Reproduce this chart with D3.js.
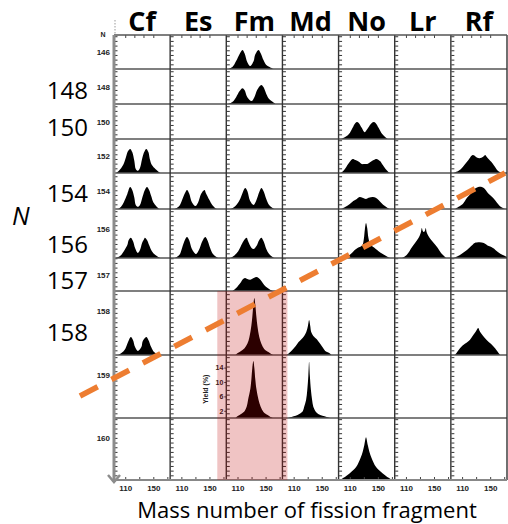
<!DOCTYPE html>
<html>
<head>
<meta charset="utf-8">
<script src="https://cdn.jsdelivr.net/npm/d3@7"></script>
<style>
  body { margin: 0; background: #fff; }
  svg { display: block; }
</style>
</head>
<body>
<svg width="508" height="524"></svg>
<script>
// ---- data ----
const elements = ['Cf', 'Es', 'Fm', 'Md', 'No', 'Lr', 'Rf'];
const neutrons = [146, 148, 150, 152, 154, 156, 157, 158, 159, 160];
const bigLabels = [148, 150, 154, 156, 157, 158];
const massTicks = [110, 150];
const yieldTicks = [2, 6, 10, 14];

// mass yield curves (mass number, yield %)
const series = [
  { el: 'Fm', n: 146, mass: [97,103,108,113,117,120,124,128,133,135,140,143,147,151,155,161],
    yld: [0,0.6,2.2,4.2,5.3,4.4,1.9,0.8,2.2,3.9,5.3,4.4,2.5,1.1,0.6,0] },
  { el: 'Fm', n: 148, mass: [97,103,108,113,117,120,124,130,134,138,144,147,151,155,160,164],
    yld: [0,0.6,1.9,3.6,4.4,3.9,1.9,0.8,1.9,3.9,5.3,4.7,2.8,1.4,0.6,0] },
  { el: 'No', n: 150, mass: [98,104,110,114,117,120,123,127,131,135,140,144,147,151,155,160,164],
    yld: [0,0.6,1.7,3.1,4.2,4.7,4.4,3.1,1.9,2.8,4.2,4.7,4.4,3.1,1.7,0.6,0] },
  { el: 'Cf', n: 152, mass: [97,101,107,111,114,117,120,123,125,128,131,134,137,140,143,145,148,153,157,160],
    yld: [0,0.6,2.2,4.4,6.1,6.7,5.8,3.3,1.1,0.6,1.4,3.9,5.8,6.7,5.8,3.9,2.2,1.1,0.4,0] },
  { el: 'No', n: 152, mass: [97,101,105,110,114,118,123,127,131,135,140,144,148,153,157,161,165,168],
    yld: [0,0.6,1.7,3.1,3.9,3.6,3.1,2.5,2.5,2.5,3.1,3.6,3.9,3.3,2.2,1.1,0.3,0] },
  { el: 'Rf', n: 152, mass: [98,105,111,117,121,125,128,131,135,140,143,145,150,153,157,161,167],
    yld: [0,0.6,1.7,3.1,4.2,5,4.8,4.3,4.1,4.5,5,4.5,3.4,2.8,1.7,0.6,0] },
  { el: 'Cf', n: 154, mass: [100,104,108,113,117,120,123,125,128,131,135,138,141,144,147,150,154,158],
    yld: [0,0.6,1.9,4.2,6.1,5.3,3.1,1.1,0.6,1.1,3.6,5.3,6.1,5.3,3.6,1.9,0.8,0] },
  { el: 'Es', n: 154, mass: [101,107,111,115,118,121,125,130,134,138,143,145,150,154,158,161],
    yld: [0,0.8,2.5,4.4,5.3,4.4,1.9,0.8,1.9,4.2,5.3,4.4,2.5,1.1,0.3,0] },
  { el: 'Fm', n: 154, mass: [101,107,113,117,121,124,128,133,137,141,144,147,151,155,160,163],
    yld: [0,0.8,2.5,4.4,5.8,5,2.2,1.1,2.5,4.7,5.8,5,2.8,1.1,0.3,0] },
  { el: 'No', n: 154, mass: [98,104,110,115,120,124,128,133,137,143,147,151,155,160,164,167],
    yld: [0,0.6,1.4,2.2,2.8,3.3,3.1,2.8,3.1,3.3,3.1,2.5,1.7,0.8,0.3,0] },
  { el: 'Rf', n: 154, mass: [100,105,111,117,123,128,133,137,141,147,154,160,165,171],
    yld: [0,0.6,1.4,3.1,4.4,5.6,6.1,6.2,5.8,4.4,3.1,1.7,0.6,0] },
  { el: 'Cf', n: 156, mass: [97,103,108,113,115,118,121,124,128,131,134,137,138,141,144,148,153,157,160],
    yld: [0,0.6,1.9,3.6,5,5.6,4.7,2.8,1.4,2.2,4.2,5.3,5.6,5,3.6,1.9,0.8,0.3,0] },
  { el: 'Es', n: 156, mass: [101,107,111,115,118,121,125,131,135,140,144,147,151,155,160,163],
    yld: [0,0.8,2.8,5,5.8,5,2.5,1.1,2.2,4.7,5.8,5,2.8,1.1,0.3,0] },
  { el: 'Fm', n: 156, mass: [100,105,111,117,123,125,130,133,137,141,144,147,151,155,160,163],
    yld: [0,0.6,1.9,4.2,5.6,4.7,2.8,2.5,3.3,5,5.6,4.7,2.5,1.1,0.3,0] },
  { el: 'No', n: 156, mass: [104,108,113,117,121,125,128,130,131.5,133.1,134.8,136.5,139,143,147,151,157,163,167],
    yld: [0,0.6,1.4,2.2,2.8,3.1,3.6,5.3,8,9.7,8.3,5.6,3.9,3.1,2.5,1.9,1.1,0.4,0] },
  { el: 'Lr', n: 156, mass: [105,111,119,126,129.4,131.4,132.6,134,135.4,136.9,138.3,139.4,142,146,154,160,164,167],
    yld: [0,0.8,3.1,5,6.1,7.2,8.3,7.5,7.2,7.5,8.3,7.2,6.1,5,3.1,1.4,0.6,0] },
  { el: 'Rf', n: 156, mass: [98,105,111,117,123,128,135,141,148,154,161,168,174],
    yld: [0,0.6,1.4,2.2,3.3,4.2,4.4,4.2,3.3,2.8,1.7,0.8,0.3] },
  { el: 'Fm', n: 157, mass: [103,108,114,118,121,124,128,133,137,140,144,148,153,157,161],
    yld: [0,0.8,2.2,3.3,3.6,3.3,3.1,3.6,3.9,3.6,2.8,1.7,0.8,0.3,0] },
  { el: 'Cf', n: 158, mass: [100,105,110,114,118,121,124,128,133,135,140,143,147,151,155,158],
    yld: [0,0.6,1.7,3.6,5,4.2,2.2,1.1,2.2,3.9,5,4.2,2.2,0.8,0.3,0] },
  { el: 'Fm', n: 158, mass: [107,111,115,120,124,127,129.7,131.1,132.6,134,135.4,136.9,138.3,141,144,148,154,158,161],
    yld: [0,0.6,1.1,1.9,3.1,5,8.1,10.6,13.9,15.8,13.9,10.6,8.1,5,3.1,1.7,0.8,0.3,0] },
  { el: 'Md', n: 158, mass: [100,104,108,113,117,121,125,128,130.4,132,133.6,135,138,143,147,151,155,160,164],
    yld: [0,0.6,1.4,2.5,3.6,4.4,5.3,6.4,8.1,9.7,8.1,6.4,5.3,4.4,3.3,2.2,1.1,0.6,0] },
  { el: 'Rf', n: 158, mass: [100,103,107,114,121,125,130,133,135,140,145,151,157,161,164],
    yld: [0,0.8,1.9,3.1,4.2,5.3,6.7,7.5,6.7,5.3,4.2,3.1,1.9,0.8,0] },
  { el: 'Fm', n: 159, mass: [107,111,115,120,123,125,128.3,129.7,131.1,132.6,134,135.4,136.9,140,143,147,153,157,161],
    yld: [0,0.6,1.1,1.9,3.1,5,8.1,10.6,13.9,15.8,13.9,10.6,8.1,5,3.1,1.7,0.8,0.3,0] },
  { el: 'Md', n: 159, mass: [101,107,113,118,123,125,127.7,129.4,130.9,132,133.1,134.6,136.3,138,141,145,151,157,163],
    yld: [0,0.3,0.6,1.1,1.9,3.1,5,7.8,11.7,15.6,11.7,7.8,5,3.1,1.9,1.1,0.6,0.3,0] },
  { el: 'No', n: 160, mass: [96,101,110,119,125.3,128.3,130.7,133.1,135.6,138,141,147.4,156.6,165.4,170.3],
    yld: [0,0.6,1.9,3.6,6.1,7.8,9.7,11.9,9.7,7.8,6.1,3.6,1.9,0.6,0] }
];

// ---- layout ----
const svg = d3.select('svg');
const left = 114, right = 507;
const colW = (right - left) / elements.length;
const rowEdges = [35, 69, 104, 139, 173, 209, 258, 291, 355, 418, 480];
const pxPerPct = 3.6;
const massDomain = [94, 174];

function xScale(i) {
  return d3.scaleLinear().domain(massDomain).range([left + i * colW, left + (i + 1) * colW]);
}
function yScale(r) {
  const top = rowEdges[r], bot = rowEdges[r + 1];
  return d3.scaleLinear().domain([0, (bot - top) / pxPerPct]).range([bot, top]);
}

// curves, each clipped to its own cell
series.forEach((s, k) => {
  const c = elements.indexOf(s.el), r = neutrons.indexOf(s.n);
  const x = xScale(c), y = yScale(r);
  svg.append('clipPath').attr('id', 'clip' + k)
    .append('rect')
    .attr('x', x.range()[0]).attr('width', colW)
    .attr('y', rowEdges[r]).attr('height', rowEdges[r + 1] - rowEdges[r]);
  const pts = s.mass.map((m, i) => [m, s.yld[i]]);
  const area = d3.area()
    .x(d => x(d[0]))
    .y0(y(0))
    .y1(d => y(d[1]))
    .curve(d3.curveCatmullRom.alpha(0.5));
  svg.append('path').attr('d', area(pts)).attr('fill', '#000')
    .attr('clip-path', `url(#clip${k})`);
});

// small tick marks on each cell
elements.forEach((el, c) => {
  const x = xScale(c);
  neutrons.forEach((n, r) => {
    const y = yScale(r);
    const g = svg.append('g')
      .attr('transform', `translate(${x.range()[0] + 0.5},0)`)
      .call(d3.axisRight(y).tickValues(d3.range(1.3, y.domain()[1], 1.3)).tickSize(3).tickFormat(''));
    g.select('.domain').remove();
    g.selectAll('line').attr('stroke', '#333');
  });
  const gb = svg.append('g')
    .attr('transform', `translate(0,${rowEdges[rowEdges.length - 1]})`)
    .call(d3.axisBottom(x).tickValues([110, 130, 150, 170]).tickSize(-3).tickPadding(5)
      .tickFormat(d => massTicks.includes(d) ? d : ''));
  gb.select('.domain').remove();
  gb.selectAll('line').attr('stroke', '#444');
  gb.selectAll('text').attr('font-family', 'Liberation Sans, Arial, sans-serif')
    .attr('font-weight', 'bold').attr('font-size', 8).attr('fill', '#222');
  const gt = svg.append('g')
    .attr('transform', `translate(0,${rowEdges[0]})`)
    .call(d3.axisTop(x).tickValues([110, 123, 136, 150]).tickSize(-3).tickFormat(''));
  gt.select('.domain').remove();
  gt.selectAll('line').attr('stroke', '#444');
});

// grid lines
rowEdges.slice(1, -1).forEach(yv => {
  svg.append('line').attr('x1', left).attr('x2', right).attr('y1', yv).attr('y2', yv)
    .attr('stroke', '#555').attr('stroke-width', 1.3);
});
d3.range(1, elements.length + 1).forEach(c => {
  svg.append('line').attr('x1', left + c * colW).attr('x2', left + c * colW)
    .attr('y1', rowEdges[0]).attr('y2', rowEdges[rowEdges.length - 1])
    .attr('stroke', '#333').attr('stroke-width', 1.4);
});
svg.append('line').attr('x1', left).attr('x2', right).attr('y1', rowEdges[0]).attr('y2', rowEdges[0])
  .attr('stroke', '#555').attr('stroke-width', 1.5);
svg.append('line').attr('x1', left).attr('x2', right)
  .attr('y1', rowEdges[rowEdges.length - 1]).attr('y2', rowEdges[rowEdges.length - 1])
  .attr('stroke', '#888').attr('stroke-width', 2);
// left axis with arrow
svg.append('line').attr('x1', left).attr('x2', left).attr('y1', rowEdges[0]).attr('y2', 482)
  .attr('stroke', '#8c8c8c').attr('stroke-width', 3);
svg.append('path').attr('d', `M${left - 6},475 L${left},482 L${left + 6},475`)
  .attr('fill', 'none').attr('stroke', '#8c8c8c').attr('stroke-width', 2.5);
svg.append('line').attr('x1', left + 1).attr('x2', left + 1).attr('y1', 20).attr('y2', 34)
  .attr('stroke', '#999').attr('stroke-dasharray', '1.5,1.5');

// yield axis labels (Fm, N = 159)
const fmX = xScale(elements.indexOf('Fm'));
const y159 = yScale(neutrons.indexOf(159));
const ga = svg.append('g')
  .attr('transform', `translate(${fmX.range()[0]},0)`)
  .call(d3.axisLeft(y159).tickValues(yieldTicks).tickSize(2).tickPadding(1));
ga.select('.domain').remove();
ga.selectAll('line').attr('stroke', '#333');
ga.selectAll('text').attr('font-family', 'Liberation Sans, Arial, sans-serif')
  .attr('font-weight', 'bold').attr('font-size', 7).attr('fill', '#222');
svg.append('text')
  .attr('transform', `translate(208,${y159(8)}) rotate(-90)`)
  .attr('text-anchor', 'middle')
  .attr('font-family', 'Liberation Sans, Arial, sans-serif')
  .attr('font-weight', 'bold').attr('font-size', 7).attr('fill', '#222')
  .text('Yield (%)');

// small N labels of the original figure
neutrons.forEach((n, r) => {
  const mid = (rowEdges[r] + rowEdges[r + 1]) / 2;
  svg.append('text')
    .attr('x', 110).attr('y', Math.min(mid, rowEdges[r] + 20) + 3)
    .attr('text-anchor', 'end')
    .attr('font-family', 'Liberation Sans, Arial, sans-serif')
    .attr('font-weight', 'bold').attr('font-size', 8).attr('fill', '#222')
    .text(n);
});
svg.append('text').attr('x', 103).attr('y', 37).attr('text-anchor', 'middle')
  .attr('font-family', 'Liberation Sans, Arial, sans-serif')
  .attr('font-weight', 'bold').attr('font-size', 7).attr('fill', '#222').text('N');

// pink highlight over Fm, N >= 158
const r158 = neutrons.indexOf(158);
svg.append('rect')
  .attr('x', fmX.range()[0] - 9).attr('width', colW + 14)
  .attr('y', rowEdges[r158]).attr('height', rowEdges[rowEdges.length - 1] - rowEdges[r158])
  .attr('fill', '#c00000').attr('opacity', 0.23);

// orange dashed annotation
svg.append('line')
  .attr('x1', 80).attr('y1', 396).attr('x2', 505).attr('y2', 173)
  .attr('stroke', '#ed7d31').attr('stroke-width', 5.5)
  .attr('stroke-dasharray', '20,15.5');

// column headers
elements.forEach((el, c) => {
  svg.append('text')
    .attr('x', left + (c + 0.5) * colW).attr('y', 31)
    .attr('text-anchor', 'middle')
    .attr('font-family', 'Open Sans, sans-serif')
    .attr('font-weight', 'bold').attr('font-size', 27).attr('fill', '#000')
    .text(el);
});

// big N labels
const bigOffset = { 148: 99, 150: 136, 154: 202, 156: 253, 157: 289, 158: 341 };
bigLabels.forEach(n => {
  svg.append('text')
    .attr('x', 88).attr('y', bigOffset[n])
    .attr('text-anchor', 'end')
    .attr('font-family', 'Open Sans, sans-serif')
    .attr('font-size', 24).attr('fill', '#000')
    .text(n);
});
svg.append('text').attr('x', 12).attr('y', 225)
  .attr('font-family', 'Open Sans, sans-serif').attr('font-style', 'italic')
  .attr('font-size', 25).attr('fill', '#000').text('N');

svg.append('text')
  .attr('x', 307).attr('y', 518).attr('text-anchor', 'middle')
  .attr('font-family', 'Open Sans, sans-serif')
  .attr('font-size', 22).attr('fill', '#000')
  .text('Mass number of fission fragment');
</script>
</body>
</html>
